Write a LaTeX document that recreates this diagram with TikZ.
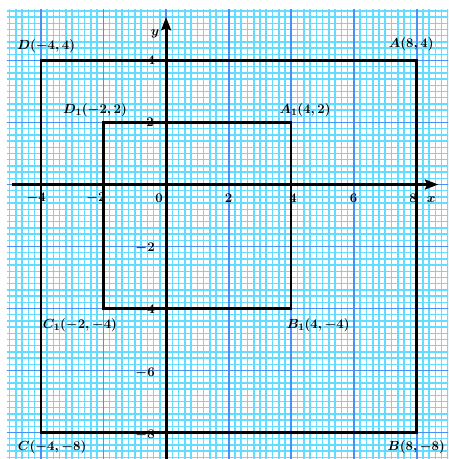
\documentclass[tikz,border=0pt]{standalone}
\usetikzlibrary{arrows.meta}
\definecolor{minorc}{RGB}{100,220,255}
\definecolor{majorc}{RGB}{70,145,245}
\begin{document}
\begin{tikzpicture}[x={(1cm,0)},y={(0,0.99cm)},
  minorfill/.style={fill=minorc},
  majorfill/.style={fill=majorc},
  axisline/.style={draw=black,line width=2.6pt,-{Stealth[length=12pt,width=9pt,inset=2pt]}},
  rectline/.style={draw=black,line width=2.0pt,line join=miter},
  lbl/.style={font=\fontsize{13}{15}\selectfont\boldmath,inner sep=0pt},
  tck/.style={font=\fontsize{12}{14}\selectfont\boldmath,inner sep=0pt}]
\useasboundingbox (-5.304,-8.855) rectangle (9.010,5.952);
\begin{scope}
  \clip (-5.08,-8.855) rectangle (9.010,5.63);
  \foreach \i in {-27,...,46} \fill[minorfill] (\i/5-0.025,-9.2) rectangle (\i/5+0.025,6.2);
  \foreach \j in {-46,...,31} \fill[minorfill] (-5.6,\j/5-0.025) rectangle (9.3,\j/5+0.025);
  \foreach \i in {-4,-2,...,8} \fill[majorfill] (\i-0.03,-9.2) rectangle (\i+0.03,6.2);
  \foreach \j in {-8,-6,...,4} \fill[majorfill] (-5.6,\j-0.03) rectangle (9.3,\j+0.03);
\end{scope}
% corners
\coordinate (A) at (8,4);
\coordinate (B) at (8,-8);
\coordinate (C) at (-4,-8);
\coordinate (D) at (-4,4);
\coordinate (A1) at (4,2);
\coordinate (B1) at (4,-4);
\coordinate (C1) at (-2,-4);
\coordinate (D1) at (-2,2);
\draw[rectline] (A) -- (B) -- (C) -- (D) -- cycle;
\draw[rectline] (A1) -- (B1) -- (C1) -- (D1) -- cycle;
% axes
\coordinate (xs) at (-4.93,0);
\coordinate (xe) at (8.69,0);
\coordinate (ys) at (0,-8.9);
\coordinate (ye) at (0,5.40);
\draw[axisline] (xs) -- (xe);
\draw[axisline] (ys) -- (ye);
% tick labels
\node[tck] (tm4) at (-4.15,-0.43) {$-4$};
\node[tck] (tm2) at (-2.24,-0.43) {$-2$};
\node[tck] (t0) at (-0.22,-0.43) {$0$};
\node[tck] (t2) at (2.0,-0.43) {$2$};
\node[tck] (t4) at (4.06,-0.43) {$4$};
\node[tck] (t6) at (5.99,-0.43) {$6$};
\node[tck] (t8) at (7.89,-0.43) {$8$};
\node[tck] (xl) at (8.47,-0.5) {$x$};
\node[tck] (u4) at (-0.48,4.02) {$4$};
\node[tck] (u2) at (-0.51,2.02) {$2$};
\node[tck] (um2) at (-0.67,-2.05) {$-2$};
\node[tck] (um4) at (-0.67,-4.05) {$-4$};
\node[tck] (um6) at (-0.67,-6.08) {$-6$};
\node[tck] (um8) at (-0.67,-8.08) {$-8$};
\node[tck] (yl) at (-0.35,4.85) {$y$};
% point labels
\node[lbl] (lD) at (-3.83,4.47) {$D(-4,4)$};
\node[lbl] (lA) at (7.83,4.53) {$A(8,4)$};
\node[lbl] (lD1) at (-2.27,2.40) {$D_1(-2,2)$};
\node[lbl] (lA1) at (4.44,2.40) {$A_1(4,2)$};
\node[lbl] (lC1) at (-2.75,-4.53) {$C_1(-2,-4)$};
\node[lbl] (lB1) at (4.86,-4.53) {$B_1(4,-4)$};
\node[lbl] (lC) at (-3.64,-8.47) {$C(-4,-8)$};
\node[lbl] (lB) at (7.99,-8.47) {$B(8,-8)$};
\end{tikzpicture}
\end{document}
